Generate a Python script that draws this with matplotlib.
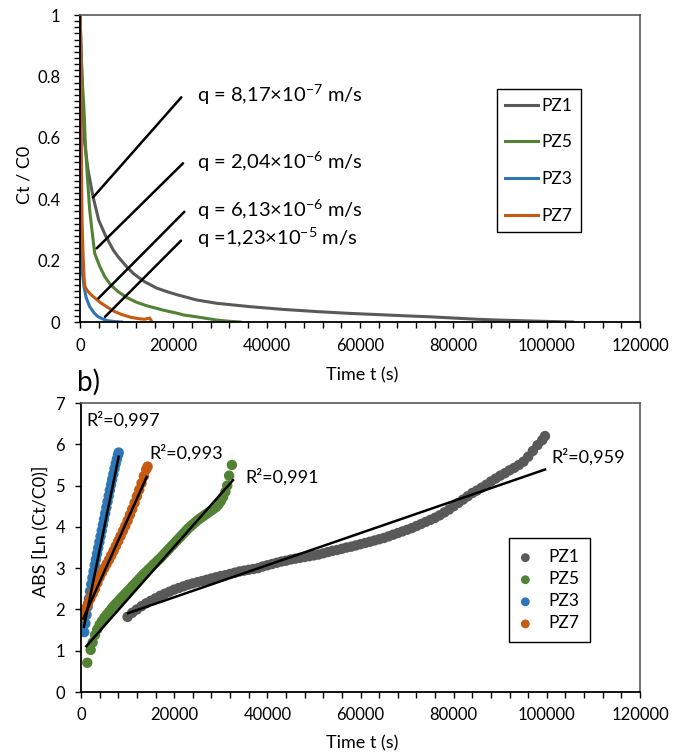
import numpy as np
import matplotlib
matplotlib.use('Agg')
import matplotlib.pyplot as plt
from matplotlib.ticker import MultipleLocator, FuncFormatter

plt.rcParams['font.family'] = ['Lato', 'DejaVu Sans']
plt.rcParams['mathtext.fontset'] = 'custom'
plt.rcParams['mathtext.rm'] = 'Lato'
plt.rcParams['mathtext.default'] = 'regular'

names = ['PZ1', 'PZ5', 'PZ3', 'PZ7']
colors = ['#595959', '#548235', '#2E75B6', '#C55A11']

# a) Ct / C0 versus time
t_a_pz1 = [0, 290, 640, 1000, 1710, 2790, 4000, 5500, 7140, 8140, 10000, 11430, 13860, 16500,
           19000, 21000, 24930, 29290, 36430, 43570, 50720, 57860, 64000, 70000, 75000, 80000,
           85000, 89290, 95000, 100000, 105500]
c_a_pz1 = [1.0, 0.853, 0.69, 0.582, 0.495, 0.408, 0.332, 0.28, 0.234, 0.213, 0.18, 0.158, 0.131, 0.11,
           0.097, 0.088, 0.072, 0.061, 0.05, 0.041, 0.034, 0.028, 0.024, 0.02, 0.017, 0.013,
           0.009, 0.0065, 0.004, 0.002, 0.0]
t_a_pz5 = [0, 200, 430, 860, 1140, 1570, 2070, 2430, 3140, 4200, 5290, 6500, 8140, 10000, 12000,
           13860, 15000, 18000, 21000, 22140, 24930, 27000, 29290, 31500, 34300]
c_a_pz5 = [1.0, 0.9, 0.80, 0.69, 0.582, 0.473, 0.365, 0.316, 0.224, 0.182, 0.148, 0.122, 0.099, 0.08, 0.065,
           0.055, 0.05, 0.038, 0.028, 0.023, 0.017, 0.012, 0.0065, 0.003, 0.0]
t_a_pz3 = [0, 150, 250, 290, 500, 860, 1300, 2070, 3000, 3860, 5000, 6000, 7500, 8900]
c_a_pz3 = [1.0, 0.6, 0.35, 0.224, 0.16, 0.115, 0.08, 0.05, 0.03, 0.017, 0.009, 0.004, 0.0015, 0.0]
t_a_pz7 = [0, 100, 250, 430, 640, 850, 1000, 1300, 1800, 2430, 3500, 4570, 6000, 7430, 9000, 11000,
           12500, 13860, 14400, 14930, 15430]
c_a_pz7 = [1.0, 0.85, 0.6, 0.33, 0.224, 0.15, 0.12, 0.108, 0.098, 0.088, 0.074, 0.061, 0.047, 0.034, 0.024,
           0.015, 0.011, 0.009, 0.011, 0.013, 0.0]

q_text = ['q = 8,17×10$^{-7}$ m/s', 'q = 2,04×10$^{-6}$ m/s',
          'q = 6,13×10$^{-6}$ m/s', 'q =1,23×10$^{-5}$ m/s']

# b) ABS[Ln(Ct/C0)] versus time
t_b_pz1 = list(range(10000, 100000, 1000)) + [99600]
l_b_pz1 = [1.82, 1.92, 2.0, 2.08, 2.15, 2.21, 2.27, 2.33, 2.38, 2.43,
           2.48, 2.52, 2.56, 2.6, 2.63, 2.66, 2.69, 2.72, 2.75, 2.78,
           2.81, 2.83, 2.86, 2.89, 2.92, 2.94, 2.96, 2.98, 3.0, 3.04,
           3.07, 3.1, 3.13, 3.16, 3.18, 3.21, 3.23, 3.25, 3.27, 3.29,
           3.31, 3.33, 3.36, 3.39, 3.42, 3.44, 3.47, 3.5, 3.52, 3.55,
           3.58, 3.61, 3.64, 3.67, 3.7, 3.73, 3.77, 3.81, 3.85, 3.89,
           3.93, 3.97, 4.02, 4.07, 4.12, 4.17, 4.22, 4.28, 4.35, 4.42,
           4.5, 4.58, 4.66, 4.74, 4.82, 4.88, 4.95, 5.02, 5.1, 5.17,
           5.24, 5.3, 5.37, 5.43, 5.5, 5.58, 5.7, 5.84, 5.98, 6.1, 6.2]
t_b_pz5 = [1350, 2080] + list(range(2500, 31001, 500)) + [31400, 31800, 32400]
l_b_pz5 = [0.71, 1.02,
           1.2, 1.38, 1.52, 1.63, 1.72, 1.8, 1.87, 1.94, 2.01, 2.08,
           2.14, 2.2, 2.26, 2.32, 2.38, 2.44, 2.5, 2.56, 2.62, 2.68,
           2.74, 2.8, 2.86, 2.91, 2.97, 3.02, 3.08, 3.13, 3.19, 3.24,
           3.3, 3.36, 3.42, 3.48, 3.54, 3.6, 3.66, 3.72, 3.78, 3.84,
           3.9, 3.96, 4.01, 4.06, 4.11, 4.16, 4.2, 4.24, 4.28, 4.32,
           4.36, 4.4, 4.44, 4.48, 4.54, 4.62, 4.72, 4.85,
           5.0, 5.24, 5.5]
t_b_pz3 = list(range(700, 8000, 250)) + [8100]
l_b_pz3 = [1.45, 1.66, 1.87, 2.07, 2.26, 2.44, 2.61, 2.77, 2.92, 3.07,
           3.21, 3.35, 3.49, 3.63, 3.77, 3.91, 4.05, 4.19, 4.33, 4.47,
           4.61, 4.75, 4.89, 5.02, 5.15, 5.28, 5.41, 5.53, 5.64, 5.74, 5.8]
t_b_pz7 = [200] + list(range(500, 14001, 500)) + [14300]
l_b_pz7 = [1.82, 1.9, 2.02, 2.14, 2.26, 2.38, 2.5, 2.64, 2.78, 2.89,
           3.0, 3.1, 3.2, 3.31, 3.42, 3.54, 3.66, 3.78, 3.9, 4.02,
           4.15, 4.29, 4.43, 4.58, 4.74, 4.9, 5.06, 5.23, 5.39, 5.46]

# linear trend lines
fit_slope = [3.887e-5, 1.277e-4, 5.53e-4, 2.522e-4]
fit_icpt = [1.518, 0.964, 1.226, 1.654]
fit_t0 = [10090, 1140, 640, 500]
fit_t1 = [99620, 32630, 8090, 14100]
r2_text = ['R²=0,959', 'R²=0,991', 'R²=0,997', 'R²=0,993']

t_a = [t_a_pz1, t_a_pz5, t_a_pz3, t_a_pz7]
c_a = [c_a_pz1, c_a_pz5, c_a_pz3, c_a_pz7]
t_b = [t_b_pz1, t_b_pz5, t_b_pz3, t_b_pz7]
l_b = [l_b_pz1, l_b_pz5, l_b_pz3, l_b_pz7]

fig = plt.figure(figsize=(6.84, 7.55), dpi=100)
ax1 = fig.add_axes([0.1170, 0.5735, 0.8187, 0.4066])
ax2 = fig.add_axes([0.1184, 0.0834, 0.8173, 0.3828])

fmt = FuncFormatter(lambda v, p: f'{v:g}')

# ---- top panel
for t, c, n, col in zip(t_a, c_a, names, colors):
    ax1.plot(t, c, color=col, lw=2.2, label=n)

# leader lines (start, end) and label anchor
leaders = [((2790, 0.406), (21710, 0.732), (25000, 0.717)),
           ((3570, 0.240), (22070, 0.517), (25000, 0.500)),
           ((3930, 0.077), (22360, 0.359), (25000, 0.343)),
           ((5360, 0.017), (21640, 0.265), (25000, 0.251))]
for (p0, p1, pt), txt in zip(leaders, q_text):
    ax1.annotate('', xy=p0, xytext=p1,
                 arrowprops=dict(arrowstyle='-', lw=1.8, color='black', shrinkA=0, shrinkB=0))
    ax1.text(pt[0], pt[1], txt, fontsize=14.5, va='baseline', ha='left')

ax1.set_xlim(0, 120000)
ax1.set_ylim(0, 1)
ax1.xaxis.set_major_locator(MultipleLocator(20000))
ax1.xaxis.set_minor_locator(MultipleLocator(4000))
ax1.yaxis.set_major_locator(MultipleLocator(0.2))
ax1.yaxis.set_minor_locator(MultipleLocator(0.02))
ax1.xaxis.set_major_formatter(fmt)
ax1.yaxis.set_major_formatter(fmt)
ax1.tick_params(axis='x', which='both', direction='out', length=4.5, width=1, pad=7, labelsize=12)
ax1.tick_params(axis='y', which='both', direction='out', length=4, width=1, pad=10, labelsize=12)
ax1.set_xlabel('Time t (s)', fontsize=13)
ax1.set_ylabel('Ct / C0', fontsize=13)
ax1.xaxis.set_label_coords(0.504, -0.173)
ax1.yaxis.set_label_coords(-0.1, 0.48)
ax1.xaxis.label.set_va('center')
ax1.yaxis.label.set_va('center')
leg1 = ax1.legend(loc='upper left', bbox_to_anchor=(0.744, 0.759), borderaxespad=0,
                  fontsize=12.5, frameon=True, fancybox=False, edgecolor='black', framealpha=1,
                  handlelength=1.9, handletextpad=0.15, labelspacing=1.19, borderpad=0.5)
leg1.get_frame().set_linewidth(1.0)

# ---- bottom panel
for t, v, n, col in zip(t_b, l_b, names, colors):
    ax2.scatter(t, v, s=56, color=col, edgecolors='none', label=n, zorder=2)
for k in range(4):
    tt = np.array([fit_t0[k], fit_t1[k]])
    ax2.plot(tt, fit_icpt[k] + fit_slope[k] * tt, color='black', lw=1.8, zorder=3)

r2_pos = [(101050, 5.70), (35210, 5.21), (1140, 6.59), (14740, 5.78)]
for (x, y), txt in zip(r2_pos, r2_text):
    ax2.text(x, y, txt, fontsize=13, va='center', ha='left')

ax2.set_xlim(0, 120000)
ax2.set_ylim(0, 7)
ax2.xaxis.set_major_locator(MultipleLocator(20000))
ax2.xaxis.set_minor_locator(MultipleLocator(4000))
ax2.yaxis.set_major_locator(MultipleLocator(1))
ax2.xaxis.set_major_formatter(fmt)
ax2.yaxis.set_major_formatter(fmt)
ax2.tick_params(axis='x', which='both', direction='out', length=4.5, width=1, pad=6, labelsize=12)
ax2.tick_params(axis='y', which='both', direction='out', length=4.5, width=1, pad=7, labelsize=12)
ax2.set_xlabel('Time t (s)', fontsize=13)
ax2.set_ylabel('ABS [Ln (Ct/C0)]', fontsize=13)
ax2.xaxis.set_label_coords(0.503, -0.176)
ax2.yaxis.set_label_coords(-0.073, 0.557)
ax2.xaxis.label.set_va('center')
ax2.yaxis.label.set_va('center')
leg2 = ax2.legend(loc='upper left', bbox_to_anchor=(0.766, 0.532), borderaxespad=0,
                  fontsize=12.5, frameon=True, fancybox=False, edgecolor='black', framealpha=1,
                  handlelength=0.6, handletextpad=1.0, labelspacing=0.35, borderpad=0.63,
                  markerscale=0.85, scatterpoints=1)
leg2.get_frame().set_linewidth(1.0)

for ax in (ax1, ax2):
    for side in ('left', 'bottom'):
        ax.spines[side].set_color('black')
        ax.spines[side].set_linewidth(1.3)
    for side in ('top', 'right'):
        ax.spines[side].set_color('#595959')
        ax.spines[side].set_linewidth(1.2)

fig.text(77 / 684, 1 - 382 / 755, 'b)', fontsize=20, va='center', ha='left')

fig.savefig('out.png', dpi=100)
plt.close(fig)
